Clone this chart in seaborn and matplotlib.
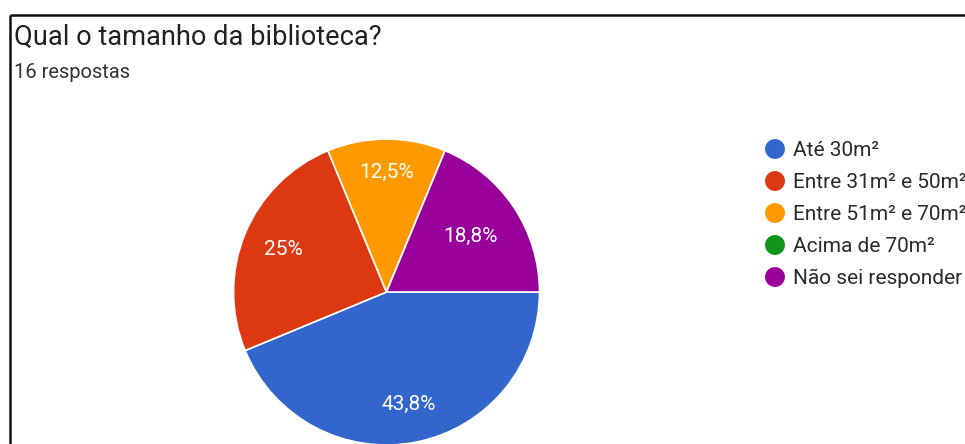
import numpy as np
import pandas as pd
import matplotlib
matplotlib.use("Agg")
import matplotlib.pyplot as plt
import seaborn as sns

# ---- data ----
title = "Qual o tamanho da biblioteca?"
subtitle = "16 respostas"
categories = ["Até 30m²", "Entre 31m² e 50m²", "Entre 51m² e 70m²",
              "Acima de 70m²", "Não sei responder"]
counts = [7, 4, 2, 0, 3]
colors = ["#3366CC", "#DC3912", "#FF9900", "#109618", "#990099"]

sns.set_theme(style="white")
plt.rcParams["font.family"] = ["Roboto", "DejaVu Sans"]

W, H = 965, 444
fig = plt.figure(figsize=(W / 100, H / 100), dpi=100)
fig.patch.set_facecolor("white")

# ---- pie ----
cx, cy, R = 386.5, 292, 153
pie_ax = fig.add_axes([(cx - R) / W, (H - cy - R) / H, 2 * R / W, 2 * R / H])


def fmt(p):
    if p <= 0:
        return ""
    s = f"{p:.1f}".replace(".", ",")
    if s.endswith(",0"):
        s = s[:-2]
    return s + "%"


wedges, texts, autotexts = pie_ax.pie(
    counts, colors=colors, startangle=0, counterclock=False,
    autopct=fmt, pctdistance=0.73,
    wedgeprops=dict(edgecolor="white", linewidth=1.2),
    textprops=dict(color="white", fontsize=15))
label_r = [0.75, 0.73, 0.78, 0.7, 0.66]
for w, t, r in zip(wedges, autotexts, label_r):
    a = np.deg2rad((w.theta1 + w.theta2) / 2)
    t.set_position((r * np.cos(a), r * np.sin(a)))
    t.set_ha("center")
    t.set_va("center")
pie_ax.set_xlim(-1, 1)
pie_ax.set_ylim(-1, 1)
pie_ax.set_aspect("equal")
pie_ax.axis("off")

# ---- overlay (pixel coords) ----
ov = fig.add_axes([0, 0, 1, 1])
ov.patch.set_alpha(0)

leg_x = 775
row_y = [149, 181, 213, 245, 277]
df = pd.DataFrame({"x": [leg_x] * len(categories), "y": row_y, "cat": categories})
sns.scatterplot(data=df, x="x", y="y", hue="cat", palette=colors, s=205,
                linewidth=0, legend=False, ax=ov)
for cat, y in zip(categories, row_y):
    ov.text(leg_x + 18, y + 7, cat, fontsize=15, color="#2a2a2a", va="baseline", ha="left")

ov.text(14, 44.5, title, fontsize=19.6, color="#212121", va="baseline", ha="left")
ov.text(14, 78.5, subtitle, fontsize=14.5, color="#333333", va="baseline", ha="left")

ov.plot([10, W], [15, 15], color="#111111", lw=1.8, solid_capstyle="butt")
ov.plot([10, 10], [15, H], color="#111111", lw=1.8, solid_capstyle="butt")

ov.set_xlim(0, W)
ov.set_ylim(H, 0)
ov.axis("off")

fig.savefig("out.png", dpi=100)
